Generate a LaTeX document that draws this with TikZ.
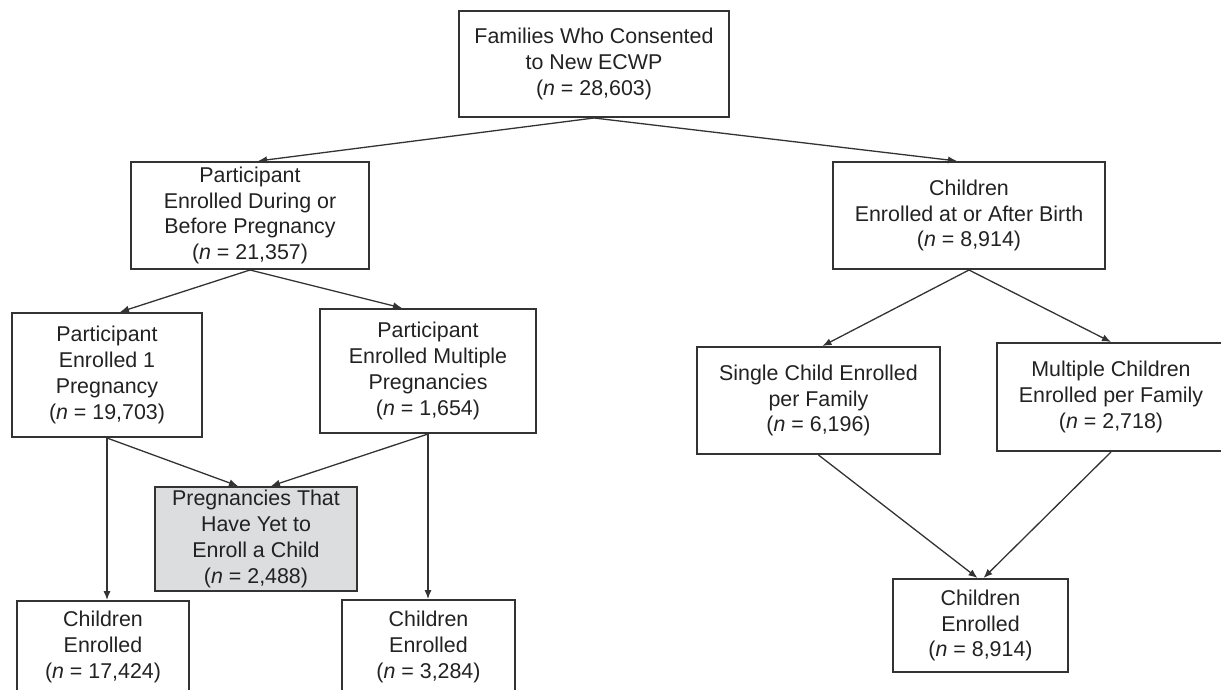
\documentclass[tikz,border=0pt]{standalone}
\usepackage{xcolor}
\usepackage{fontspec}
\setmainfont{Liberation Sans}
\usepackage{tikz}
\usetikzlibrary{arrows.meta}
\usetikzlibrary{shapes,shapes.geometric}
\definecolor{boxline}{HTML}{333333}
\definecolor{boxtext}{HTML}{222222}
\definecolor{yetgrey}{HTML}{DCDDDE}
\tikzset{>={Latex[length=4.5pt,width=3.6pt]}}
\tikzset{flowbox/.style={draw=boxline, line width=1pt, align=center, inner sep=0pt,
    text=boxtext, font=\fontsize{10.7}{12.9}\selectfont}}
\tikzset{flowline/.style={->, line width=0.65pt, draw=boxline}}

\begin{document}
\begin{tikzpicture}[x=0.5pt, y=-0.5pt]
      \useasboundingbox (0,0) rectangle (1221,690);
      \node[flowbox, minimum width=135pt, minimum height=53pt] (consent) at (594,64)
        {Families Who Consented\\to New ECWP\\(\textit{n} = 28,603)};
      \node[flowbox, minimum width=119pt, minimum height=53.5pt] (during) at (250,215.5)
        {Participant\\Enrolled During or\\Before Pregnancy\\(\textit{n} = 21,357)};
      \node[flowbox, minimum width=136pt, minimum height=53.5pt] (afterbirth) at (969,215.5)
        {Children\\Enrolled at or After Birth\\(\textit{n} = 8,914)};
      \node[flowbox, minimum width=95pt, minimum height=62pt] (onepreg) at (107,375)
        {Participant\\Enrolled 1\\Pregnancy\\(\textit{n} = 19,703)};
      \node[flowbox, minimum width=108pt, minimum height=62pt] (multipreg) at (428,371)
        {Participant\\Enrolled Multiple\\Pregnancies\\(\textit{n} = 1,654)};
      \node[flowbox, fill=yetgrey, minimum width=101pt, minimum height=52pt] (yet) at (256,539)
        {Pregnancies That\\Have Yet to\\Enroll a Child\\(\textit{n} = 2,488)};
      \node[flowbox, minimum width=86pt, minimum height=46pt] (enrolone) at (103,647)
        {Children\\Enrolled\\(\textit{n} = 17,424)};
      \node[flowbox, minimum width=86.5pt, minimum height=47pt] (enrolmulti) at (428.5,647)
        {Children\\Enrolled\\(\textit{n} = 3,284)};
      \node[flowbox, minimum width=121.5pt, minimum height=53.5pt] (single) at (818.5,400.5)
        {Single Child Enrolled\\per Family\\(\textit{n} = 6,196)};
      \node[flowbox, minimum width=114pt, minimum height=54pt] (multichild) at (1111,397)
        {Multiple Children\\Enrolled per Family\\(\textit{n} = 2,718)};
      \node[flowbox, minimum width=87.5pt, minimum height=46.5pt] (enrolbirth) at (980.5,625.5)
        {Children\\Enrolled\\(\textit{n} = 8,914)};
      % top split
      \draw[flowline] (consent.south) -- ([xshift=4pt]during.north);
      \draw[flowline] (consent.south) -- ([xshift=-6pt]afterbirth.north);
      % pregnancy side
      \draw[flowline] (during.south) -- ([xshift=6.5pt]onepreg.north);
      \draw[flowline] (during.south) -- ([xshift=-13pt]multipreg.north);
      \draw[flowline] (onepreg.south) -- (onepreg.south |- enrolone.north);
      \draw[flowline] (multipreg.south) -- (multipreg.south |- enrolmulti.north);
      \draw[flowline] (onepreg.south) -- ([xshift=-9pt]yet.north);
      \draw[flowline] (multipreg.south) -- ([xshift=7.5pt]yet.north);
      % birth side
      \draw[flowline] (afterbirth.south) -- ([xshift=2pt]single.north);
      \draw[flowline] (afterbirth.south) -- (multichild.north);
      \draw[flowline] (single.south) -- ([xshift=-1.5pt]enrolbirth.north);
      \draw[flowline] (multichild.south) -- ([xshift=1.5pt]enrolbirth.north);
\end{tikzpicture}
\end{document}
